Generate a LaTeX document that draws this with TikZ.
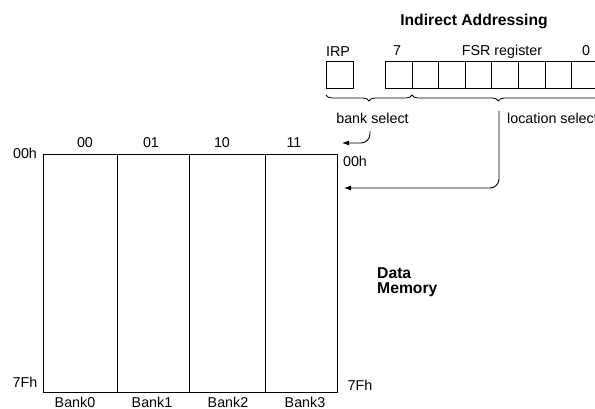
\documentclass[tikz,border=0pt]{standalone}
\usepackage{fontspec}
\setmainfont{Liberation Sans}
\usetikzlibrary{arrows.meta,decorations.pathreplacing}
\tikzset{
  lbl/.style={inner sep=0pt, font=\fontsize{14.3}{16}\selectfont},
  ttl/.style={inner sep=0pt, font=\fontsize{15.7}{17}\selectfont\bfseries},
  bitbox/.style={draw, line width=0.8pt, minimum width=26.6pt, minimum height=26.6pt, inner sep=0pt, anchor=north west},
  conn/.style={line width=0.9pt, -{Latex[length=7pt,width=5pt]}, rounded corners=9pt},
  brc/.style={line width=0.8pt, decorate, decoration={brace, mirror, amplitude=6pt}},
  memline/.style={line width=0.9pt}
}
\begin{document}
\begin{tikzpicture}[x=1pt,y=-1pt]
\useasboundingbox (0,0) rectangle (595,409);

% data memory banks
\node[draw, memline, minimum width=294pt, minimum height=238pt, inner sep=0pt, anchor=north west] (mem) at (43,154) {};
\draw[memline] (117,154) -- (117,392);
\draw[memline] (189,154) -- (189,392);
\draw[memline] (265,154) -- (265,392);

\node[lbl] (c00) at (85,143) {00};
\node[lbl] (c01) at (151,143) {01};
\node[lbl] (c10) at (222,143) {10};
\node[lbl] (c11) at (294,143) {11};

\node[lbl] (l00) at (25,153) {00h};
\node[lbl] (l7f) at (25,382) {7Fh};
\node[lbl] (r00) at (355,161) {00h};
\node[lbl] (r7f) at (360,385) {7Fh};

\node[lbl] (b0) at (75,402.5) {Bank0};
\node[lbl] (b1) at (152,402.5) {Bank1};
\node[lbl] (b2) at (228,402.5) {Bank2};
\node[lbl] (b3) at (305,402.5) {Bank3};

\node[ttl, align=left, anchor=west] (dm) at (377,282) {Data\\[-2pt]Memory};

% indirect addressing registers
\node[ttl] (title) at (474,21) {Indirect Addressing};
\node[lbl] (irpl) at (338,52) {IRP};
\node[lbl] (b7) at (397,51) {7};
\node[lbl] (fsrl) at (502,52) {FSR register};
\node[lbl] (bz) at (586,51) {0};

\node[bitbox, minimum width=27pt] (irp) at (326,61) {};
\foreach \i in {0,...,7} {
  \node[bitbox] (f\i) at ({385+26.6*\i},61) {};
}

% select braces
\draw[brc] (326,95) -- (412,95);
\draw[brc, decoration={aspect=0.415}] (412,95) -- (620,95);
\node[lbl] (bsel) at (372.5,118) {bank select};
\node[lbl, anchor=west] (lsel) at (507,118.5) {location select};

% bank select and location select paths into memory
\coordinate (bankin) at (342,143);
\coordinate (locin) at (344,188);
\draw[conn] (370,131) |- (bankin);
\draw[conn] (499,111) |- (locin);
\end{tikzpicture}
\end{document}
